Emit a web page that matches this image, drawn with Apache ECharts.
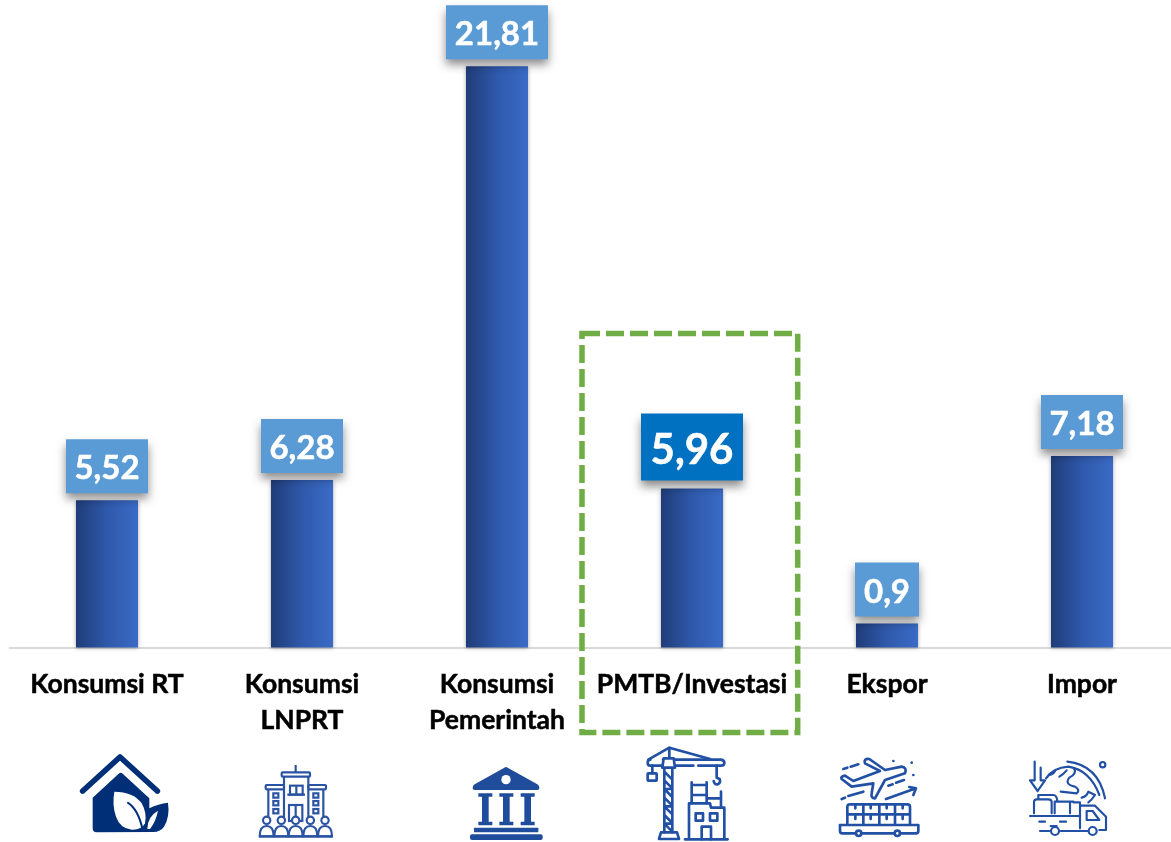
<!DOCTYPE html>
<html><head><meta charset="utf-8">
<style>html,body{margin:0;padding:0;background:#fff}#c{width:1171px;height:842px}</style>
<script src="https://cdn.jsdelivr.net/npm/echarts@6/dist/echarts.min.js"></script>
</head><body><div id="c"></div>
<script>
const categories = ['Konsumsi RT','Konsumsi\nLNPRT','Konsumsi\nPemerintah','PMTB/Investasi','Ekspor','Impor'];
const values = [5.52,6.28,21.81,5.96,0.9,7.18];
const valueLabels = ['5,52','6,28','21,81','5,96','0,9','7,18'];
const highlighted = 'PMTB/Investasi';

const C1='#002f78', C2='#2a53a3', C3='#1f4c9b', C4='#2250a5';
const svg=(inner)=>'data:image/svg+xml;charset=utf-8,'+encodeURIComponent(
 '<svg xmlns="http://www.w3.org/2000/svg" width="110" height="97" viewBox="0 0 330 291">'+inner+'</svg>');
const iconHouse=svg(`
<path d="M38 138 L150 36 L262 138" fill="none" stroke="${C1}" stroke-width="17" stroke-linecap="round" stroke-linejoin="round"/>
<path d="M68 158 L146 86 Q152 80 158 86 L238 160 L238 190 Q265 176 294 173 Q300 215 282 245 Q272 260 250 261 L80 262 Q68 262 68 250 Z" fill="${C1}"/>
<path d="M133 140 Q190 140 215 175 Q232 205 225 235 Q215 255 185 254 Q150 250 138 215 Q126 180 133 140 Z" fill="#fff"/>
<path d="M172 172 Q205 192 218 255" fill="none" stroke="${C1}" stroke-width="6"/>
<path d="M232 252 Q232 215 264 197 Q258 228 240 252 Z" fill="#fff"/>`);
const people=[50,94,137,181,225].map(x=>`<path d="M${x-21} 274 Q${x-21} 243 ${x} 243 Q${x+21} 243 ${x+21} 274 Z" fill="#fff"/><circle cx="${x}" cy="226" r="11" fill="#fff"/>`).join('');
const wins=[70,190].map(x=>[145,168,192].map(y=>`<rect x="${x}" y="${y}" width="15" height="13"/>`).join('')).join('');
const iconBuilding=svg(`<g fill="none" stroke="${C2}" stroke-width="6.5">
<path d="M137 60 V82 M102 95 V230 M175 95 V230 M55 133 V215 M220 133 V215"/>
<rect x="95" y="82" width="85" height="13" rx="3"/><rect x="47" y="120" width="55" height="13" rx="3"/><rect x="175" y="120" width="53" height="13" rx="3"/>
<rect x="120" y="122" width="38" height="27"/><path d="M139 122 V149 M112 149 H165 M137 180 V225"/><rect x="117" y="180" width="40" height="48"/>${wins}
${people}<path d="M28 274 H248"/></g>`);
const col=(a)=>`<path d="M${a} 145 H${a+42} V155 H${a+31} V230 H${a+42} V241 H${a} V230 H${a+11} V155 H${a} Z"/>`;
const iconBank=svg(`<g fill="${C3}">
<path d="M163 68 Q168 64 173 68 L262 118 Q268 122 268 128 V130 Q268 135 262 135 H74 Q68 135 68 130 V128 Q68 122 74 118 Z"/>
<circle cx="168" cy="104" r="14" fill="#fff"/>${col(85)}${col(148)}${col(212)}
<rect x="72" y="248" width="193" height="14" rx="2"/><rect x="60" y="268" width="218" height="17" rx="6"/></g>`);
const zig=[80,106,132,158,184,210,236].map(y=>`M88 ${y} L112 ${y+24}`).join(' ');
const iconCrane=svg(`<g fill="none" stroke="${C4}" stroke-width="8" stroke-linecap="round" stroke-linejoin="round">
<path d="M40 44 L103 8 L225 42 M103 8 V38 M88 72 V262 M112 72 V262 ${zig} M88 132 H112 M88 184 H112 M88 236 H112"/>
<path d="M84 44 H258 Q268 46 268 53 Q268 62 258 62 H190 M175 62 H118 M84 62 H46 Q38 62 38 53 Q38 44 46 44"/>
<path d="M86 40 H116 L120 68 H82 Z" fill="#fff"/>
<path d="M52 62 V85"/><rect x="38" y="85" width="27" height="22" rx="2"/>
<path d="M245 62 V98 M236 108 Q238 120 248 118 Q258 114 254 102 L245 98"/>
<path d="M72 282 L78 262 H126 L132 282 Z"/>
<path d="M162 283 V175 H225 L228 188 H268 V283 M150 283 H278"/>
<rect x="182" y="205" width="22" height="22"/><rect x="225" y="205" width="22" height="22"/>
<path d="M200 283 V245 H228 V283 M170 112 V175 M215 112 V175 M170 120 H215 M170 150 H215 M258 140 V188 M215 160 H258"/></g>`);
const iconPlane=svg(`<g fill="none" stroke="${C4}" stroke-width="8" stroke-linecap="round" stroke-linejoin="round">
<path d="M35 102 Q30 95 45 92 L70 108 L150 78 L105 55 Q100 40 118 42 L165 75 L215 65 Q232 68 225 85 L165 105 L135 160 Q122 160 125 145 L130 115 L65 125 Z"/>
<path d="M40 72 L52 68 M62 65 L85 58 M175 122 L188 118 M198 113 L222 105 M35 162 L45 158 M55 153 L100 140 M168 162 L258 130 M238 126 L258 130 L250 150"/>
<path d="M190 48 h.1 M245 53 h.1 M250 90 h.1"/>
<path d="M52 238 V186 Q52 178 60 178 H232 Q240 178 240 186 V238 M52 208 H240 M100 178 V238 M148 178 V238 M195 178 V238 M76 178 V190 M122 178 V190 M170 178 V190 M218 178 V190 M76 208 V222 M122 208 V222 M170 208 V222 M218 208 V222"/>
<path d="M30 240 H265 V258 Q265 265 258 265 H37 Q30 265 30 258 Z"/>
<circle cx="86" cy="265" r="8" fill="#fff"/><circle cx="202" cy="265" r="8" fill="#fff"/></g>`);
const iconTruck=svg(`<g fill="none" stroke="${C4}" stroke-width="6.5" stroke-linecap="round" stroke-linejoin="round">
<path d="M44 50 V106 H30 L53 138 L75 106 H62 V68"/>
<path d="M142 50 Q235 60 255 160 M78 100 Q100 68 145 65 Q210 75 238 150"/>
<path d="M118 95 Q130 88 140 76 M162 70 Q172 85 148 98 Q132 118 165 125 Q182 135 170 145 L122 140 M185 158 Q200 155 205 140 L225 150 Q215 165 205 172 M88 90 Q100 88 105 78"/>
<circle cx="248" cy="59" r="8"/>
<path d="M42 205 V172 Q42 163 50 163 H85 Q95 163 95 172 V205 M55 163 V150 H100 Q110 150 112 168 M104 205 V170 H150 V205 M150 170 H160"/>
<path d="M30 213 H180 M180 175 V250 M160 172 H180 M180 182 H225 L258 215 V255 H238"/>
<path d="M200 198 V225 H238 L218 198 Z"/>
<circle cx="105" cy="258" r="12"/><circle cx="218" cy="258" r="12"/>
<path d="M60 258 H88 M122 258 H203 M58 230 H75 M120 230 H138 M92 243 H110"/></g>`);
const icons=[[70,iconHouse],[250,iconBuilding],[450,iconBank],[635,iconCrane],[830,iconPlane],[1020,iconTruck]];

const barGradient=new echarts.graphic.LinearGradient(0,0,1,0,[{offset:0,color:'#1f3c78'},{offset:.5,color:'#2f59ab'},{offset:1,color:'#3a6bc6'}]);
const barData=values.map((v,i)=>{
  const hi=categories[i]===highlighted;
  const wide=valueLabels[i].length>4;
  return {value:v,label:{
    formatter:valueLabels[i],
    fontSize:hi?42:33,
    backgroundColor:hi?'#0070c0':'#5b9bd5',
    width:hi?102:(wide?102:(valueLabels[i].length<4?64:82)),
    padding:hi?[6,0,0,0]:[5,0,0,0],
    height:hi?61:49,
    lineHeight:hi?61:49,
    distance:hi?8:7
  }};
});

const chart=echarts.init(document.getElementById('c'),null,{renderer:'canvas'});
chart.setOption({
  animation:false,
  backgroundColor:'#fff',
  grid:{left:9.5,top:8,width:1170,height:639.4,containLabel:false,outerBoundsMode:'none'},
  xAxis:{type:'category',data:categories,
    axisLine:{lineStyle:{color:'#d9d9d9',width:2}},axisTick:{show:false},
    axisLabel:{interval:0,color:'#000',fontFamily:'Lato',fontWeight:'bold',fontSize:26.5,lineHeight:36,margin:19.5,align:'center',textBorderColor:'#000',textBorderWidth:0.5}},
  yAxis:{type:'value',min:0,max:24,show:false,splitLine:{show:false}},
  series:[{type:'bar',data:barData,barWidth:62,
    itemStyle:{color:barGradient,shadowColor:'rgba(0,0,0,.35)',shadowBlur:4,shadowOffsetY:1},
    label:{show:true,position:'top',color:'#fff',fontFamily:'Lato',fontWeight:'bold',align:'center',textBorderColor:'#fff',textBorderWidth:0.5,
      shadowColor:'rgba(0,0,0,.45)',shadowBlur:9,shadowOffsetY:6,shadowOffsetX:0}}],
  graphic:[
    {type:'rect',shape:{x:582,y:333.5,width:215.7,height:399},
     style:{fill:'none',stroke:'#70ad47',lineWidth:5.5,lineDash:[18,6]},z:10},
    ...icons.map(([x,src])=>({type:'image',x:x,y:745,style:{image:src,width:110,height:97},z:5}))
  ]
});
</script></body></html>
